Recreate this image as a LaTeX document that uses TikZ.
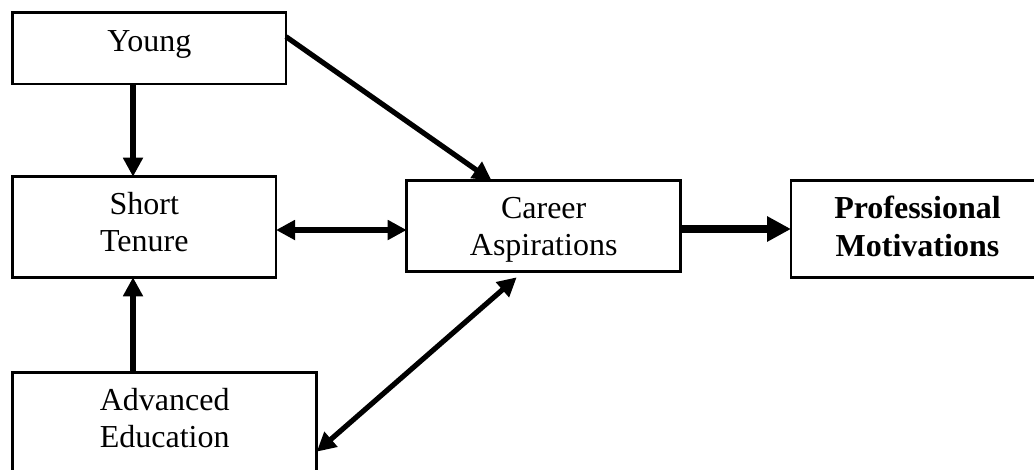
\documentclass[tikz,border=0pt]{standalone}
\usepackage{fontspec}
\setmainfont{Liberation Serif}
\usetikzlibrary{arrows.meta,calc}
\begin{document}
\begin{tikzpicture}[x=1pt,y=-1pt,
  boxnode/.style={draw, line width=2.6pt, rectangle, anchor=north west, inner sep=0pt, outer sep=0pt},
  txt/.style={anchor=base, align=center, inner sep=0pt, font=\fontsize{32}{37}\selectfont},
  arr/.style={line width=5.2pt, -{Triangle[length=19pt,width=19pt]}},
  darr/.style={line width=5.2pt, {Triangle[length=19pt,width=19pt]}-{Triangle[length=19pt,width=19pt]}},
  bigarr/.style={line width=8pt, -{Triangle[length=24pt,width=24pt]}}]
\useasboundingbox (0,0) rectangle (1034,469);
% boxes
\node[boxnode, minimum width=273.3pt, minimum height=71.3pt] (young) at (12.7,12.7) {};
\node[boxnode, minimum width=263.3pt, minimum height=100.6pt] (short) at (12.7,176.7) {};
\node[boxnode, minimum width=274pt, minimum height=91pt] (career) at (406.7,180.7) {};
\node[boxnode, minimum width=253pt, minimum height=96.6pt] (prof) at (791,180.7) {};
\node[boxnode, minimum width=304pt, minimum height=100pt] (adv) at (12.7,372.7) {};
% texts (anchor base = baseline of last line)
\node[txt] (tyoung) at (149.4,51.7) {Young};
\node[txt] (tshort) at (144.3,251) {Short\\Tenure};
\node[txt] (tcareer) at (543.7,255) {Career\\Aspirations};
\node[txt, font=\fontsize{32}{37.7}\selectfont\bfseries] (tprof) at (917.5,256) {Professional\\Motivations};
\node[txt] (tadv) at (164.7,447.3) {Advanced\\Education};
% connector anchors
\coordinate (yA) at (133,0);
\coordinate (y1) at (young.south -| yA);
\coordinate (s1) at (short.north -| yA);
\coordinate (s2) at (short.south -| yA);
\coordinate (a1) at (adv.north -| yA);
\coordinate (ye) at ($(young.north east)+(0,24)$);
\coordinate (ct) at ($(career.north west)+(85,0)$);
\coordinate (cb) at ($(career.south west)+(110,5.6)$);
\coordinate (ae) at ($(adv.north east)+(0,79)$);
% connectors
\draw[arr] (y1) -- (s1);
\draw[arr] (a1) -- (s2);
\draw[darr] (short.east |- 0,230) -- (career.west |- 0,230);
\draw[bigarr] (career.east |- 0,229) -- (prof.west |- 0,229);
\draw[arr] (ye) -- (ct);
\draw[darr] (cb) -- (ae);
\end{tikzpicture}
\end{document}
